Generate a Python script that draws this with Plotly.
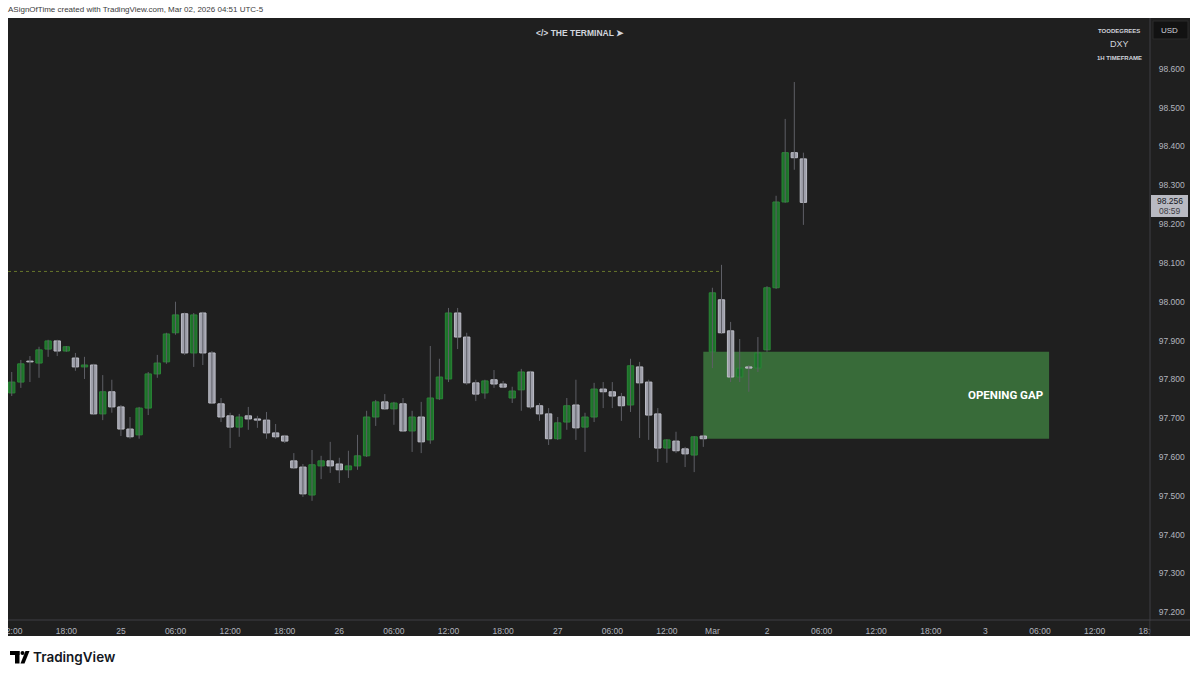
import plotly.graph_objects as go
import numpy as np

# ---------------- data (DXY, 1H) ----------------
opens = [97.765, 97.793, 97.847, 97.842, 97.878, 97.899, 97.873, 97.855, 97.832, 97.837,
         97.711, 97.768, 97.729, 97.672, 97.657, 97.726, 97.814, 97.845, 97.920, 97.969,
         97.868, 97.971, 97.868, 97.737, 97.706, 97.677, 97.706, 97.698, 97.695, 97.662,
         97.654, 97.590, 97.574, 97.502, 97.577, 97.590, 97.582, 97.567, 97.577, 97.603,
         97.703, 97.742, 97.724, 97.737, 97.667, 97.703, 97.644, 97.750, 97.801, 97.971,
         97.909, 97.791, 97.765, 97.799, 97.788, 97.752, 97.773, 97.819, 97.732, 97.711,
         97.647, 97.690, 97.734, 97.677, 97.703, 97.775, 97.768, 97.755, 97.734, 97.832,
         97.793, 97.711, 97.623, 97.641, 97.621, 97.605, 97.654, 97.871, 98.005, 97.925,
         97.806, 97.832, 97.829, 97.876, 98.036, 98.257, 98.384, 98.368]
highs = [97.819, 97.850, 97.860, 97.884, 97.902, 97.902, 97.886, 97.868, 97.858, 97.840,
         97.811, 97.799, 97.734, 97.703, 97.729, 97.819, 97.863, 97.920, 98.000, 97.972,
         97.971, 97.974, 97.873, 97.752, 97.714, 97.711, 97.729, 97.706, 97.716, 97.685,
         97.657, 97.610, 97.582, 97.618, 97.603, 97.639, 97.598, 97.616, 97.657, 97.719,
         97.747, 97.762, 97.742, 97.752, 97.719, 97.742, 97.886, 97.853, 97.984, 97.984,
         97.920, 97.799, 97.799, 97.824, 97.796, 97.781, 97.827, 97.822, 97.739, 97.726,
         97.703, 97.752, 97.799, 97.714, 97.791, 97.793, 97.793, 97.765, 97.853, 97.845,
         97.799, 97.726, 97.646, 97.665, 97.626, 97.654, 97.657, 98.036, 98.095, 97.948,
         97.904, 97.837, 97.909, 98.040, 98.273, 98.471, 98.566, 98.384]
lows = [97.757, 97.778, 97.793, 97.804, 97.858, 97.860, 97.871, 97.822, 97.801, 97.708,
        97.695, 97.714, 97.654, 97.647, 97.647, 97.708, 97.804, 97.840, 97.915, 97.863,
        97.832, 97.837, 97.737, 97.690, 97.623, 97.652, 97.670, 97.675, 97.647, 97.647,
        97.636, 97.569, 97.497, 97.487, 97.543, 97.559, 97.533, 97.546, 97.567, 97.600,
        97.680, 97.721, 97.683, 97.665, 97.613, 97.610, 97.634, 97.747, 97.793, 97.878,
        97.786, 97.744, 97.750, 97.778, 97.778, 97.739, 97.719, 97.724, 97.693, 97.631,
        97.644, 97.670, 97.644, 97.613, 97.690, 97.726, 97.726, 97.693, 97.716, 97.649,
        97.644, 97.587, 97.585, 97.610, 97.574, 97.561, 97.626, 97.829, 97.917, 97.793,
        97.793, 97.768, 97.819, 97.871, 98.033, 98.255, 98.340, 98.198]
closes = [97.793, 97.840, 97.845, 97.876, 97.899, 97.873, 97.884, 97.832, 97.837, 97.711,
          97.768, 97.729, 97.672, 97.652, 97.726, 97.814, 97.842, 97.917, 97.966, 97.868,
          97.966, 97.868, 97.739, 97.703, 97.677, 97.703, 97.698, 97.695, 97.662, 97.652,
          97.641, 97.572, 97.505, 97.580, 97.590, 97.577, 97.567, 97.577, 97.603, 97.703,
          97.742, 97.724, 97.739, 97.667, 97.703, 97.639, 97.752, 97.806, 97.971, 97.909,
          97.791, 97.762, 97.796, 97.788, 97.780, 97.770, 97.819, 97.729, 97.711, 97.647,
          97.688, 97.732, 97.675, 97.703, 97.775, 97.768, 97.757, 97.732, 97.835, 97.791,
          97.708, 97.623, 97.644, 97.616, 97.608, 97.652, 97.647, 98.023, 97.920, 97.806,
          97.829, 97.829, 97.868, 98.036, 98.257, 98.384, 98.371, 98.256]

# bar index of each x-axis label (hourly bars, weekend compressed) and the label texts
tick_index = [0, 6, 12, 18, 24, 30, 36, 42, 48, 54, 60, 66, 72, 77, 83, 89, 95, 101, 107, 113, 119, 125]
tick_text = ["12:00", "18:00", "25", "06:00", "12:00", "18:00", "26", "06:00", "12:00", "18:00",
             "27", "06:00", "12:00", "Mar", "2", "06:00", "12:00", "18:00", "3", "06:00", "12:00", "18:00"]
price_ticks = [97.2, 97.3, 97.4, 97.5, 97.6, 97.7, 97.8, 97.9, 98.0, 98.1, 98.2, 98.3, 98.4, 98.5, 98.6]

friday_last_bar = 76          # last bar before the weekend
gap_end_bar = 114             # right end of the opening-gap box
prior_high_level = 98.078     # dotted level line
prior_high_end_bar = 78
countdown = "08:59"

# ---------------- styling ----------------
W, H = 1200, 677
L, R, T, B = 8, 1150, 18, 620          # plot area in pixels
BG = "#1f1f1f"
GREEN = "#1d732a"
GREEN_EDGE = "#2a8536"
GREY = "#9fa0ab"
GREY_EDGE = "#bcbdc6"
WICK = "#5e5f66"
AX_TXT = "#b2b5be"
SEP = "#3e3f44"

def px2x(px):
    return (px - L) / (R - L)

def py2y(py):
    return (B - py) / (B - T)

n = len(opens)
idx = np.arange(n)
o = np.array(opens); c = np.array(closes); h = np.array(highs); lo = np.array(lows)
up = c >= o
body_base = np.minimum(o, c)
body_h = np.maximum(np.abs(c - o), 0.0015)

fig = go.Figure()

# wicks
wx, wy = [], []
for i in range(n):
    wx += [i, i, None]
    wy += [lo[i], h[i], None]
fig.add_trace(go.Scatter(x=wx, y=wy, mode="lines", line=dict(color=WICK, width=1),
                         hoverinfo="skip", showlegend=False))
# bodies
fig.add_trace(go.Bar(x=idx, y=body_h, base=body_base, width=0.7,
                     marker=dict(color=[GREEN if u else GREY for u in up],
                                 line=dict(color=[GREEN_EDGE if u else GREY_EDGE for u in up], width=1)),
                     hoverinfo="skip", showlegend=False))

x_left = -0.41
x_right = 125.09
y_lo, y_hi = 97.180, 98.731

shapes = []
# dark panel
shapes.append(dict(type="rect", xref="paper", yref="paper", x0=px2x(8), x1=px2x(1190),
                   y0=py2y(636), y1=py2y(18), fillcolor=BG, line=dict(width=0), layer="below"))
# opening gap box
shapes.append(dict(type="rect", xref="x", yref="y", x0=friday_last_bar, x1=gap_end_bar,
                   y0=closes[friday_last_bar], y1=opens[friday_last_bar + 1],
                   fillcolor="#386b39", line=dict(width=0), layer="below"))
# dotted prior-high level
shapes.append(dict(type="line", xref="x", yref="y", x0=x_left, x1=prior_high_end_bar,
                   y0=prior_high_level, y1=prior_high_level,
                   line=dict(color="#66752c", width=1, dash="dot"), layer="below"))
# separators
shapes.append(dict(type="line", xref="paper", yref="paper", x0=1.0, x1=1.0,
                   y0=py2y(636), y1=py2y(18), line=dict(color=SEP, width=1), layer="above"))
shapes.append(dict(type="line", xref="paper", yref="paper", x0=0, x1=px2x(1190),
                   y0=0, y1=0, line=dict(color=SEP, width=1), layer="above"))
# masks for clipped edge labels
shapes.append(dict(type="rect", xref="paper", yref="paper", x0=px2x(-5), x1=px2x(8),
                   y0=py2y(640), y1=py2y(620.5), fillcolor="white", line=dict(width=0), layer="above"))
shapes.append(dict(type="rect", xref="paper", yref="paper", x0=px2x(1150.5), x1=px2x(1190),
                   y0=py2y(636), y1=py2y(621), fillcolor=BG, line=dict(width=0), layer="above"))
# USD box
shapes.append(dict(type="rect", xref="paper", yref="paper", x0=px2x(1153), x1=px2x(1188),
                   y0=py2y(39), y1=py2y(21), fillcolor="#121212", line=dict(color="#2b2b2b", width=1),
                   layer="above"))
# current price label box
shapes.append(dict(type="rect", xref="paper", yref="paper", x0=px2x(1151), x1=px2x(1188),
                   y0=py2y(217), y1=py2y(195), fillcolor="#b9bac2", line=dict(width=0), layer="above"))
# TradingView logo (bottom-left)
shapes.append(dict(type="rect", xref="paper", yref="paper", x0=px2x(10), x1=px2x(19.5),
                   y0=py2y(655), y1=py2y(651), fillcolor="black", line=dict(width=0), layer="above"))
shapes.append(dict(type="rect", xref="paper", yref="paper", x0=px2x(15), x1=px2x(19.5),
                   y0=py2y(663.5), y1=py2y(651), fillcolor="black", line=dict(width=0), layer="above"))
shapes.append(dict(type="circle", xref="paper", yref="paper", x0=px2x(20.5), x1=px2x(24.5),
                   y0=py2y(655), y1=py2y(651), fillcolor="black", line=dict(width=0), layer="above"))
path = "M {} {} L {} {} L {} {} L {} {} Z".format(px2x(25.5), py2y(651), px2x(29.5), py2y(651),
                                                  px2x(24.5), py2y(663.5), px2x(20.5), py2y(663.5))
shapes.append(dict(type="path", xref="paper", yref="paper", path=path, fillcolor="black",
                   line=dict(width=0), layer="above"))

ann = []
def text(px, py, s, size, color, xanchor="center", family="Liberation Sans", weight="normal"):
    ann.append(dict(x=px2x(px), y=py2y(py), xref="paper", yref="paper", text=s, showarrow=False,
                    xanchor=xanchor, yanchor="middle",
                    font=dict(size=size, color=color, family=family, weight=weight)))

text(6, 9, "ASignOfTime created with TradingView.com, Mar 02, 2026 04:51 UTC-5", 8, "#3b3b3b", "left")
text(580, 33, "&lt;/&gt; THE TERMINAL ➤", 8.5, "#d1d4dc", "center", "Liberation Sans", "bold")
text(1119, 31, "TOODEGREES", 6, "#d1d4dc", "center", "Liberation Sans", "bold")
text(1119, 44, "DXY", 9, "#d1d4dc")
text(1119, 58, "1H TIMEFRAME", 6, "#d1d4dc", "center", "Liberation Sans", "bold")
text(1159, 30, "USD", 8, "#d1d4dc", "left")
text(1045, 395, "OPENING GAP", 11.5, "#ffffff", "right", "Roboto", "bold")
text(1169.5, 201.5, "{:.3f}".format(closes[-1]), 8.5, "#131722")
text(1169.5, 211.5, countdown, 8.5, "#3c3d44")
text(31, 657, "TradingView", 13.5, "#131722", "left", "Inter", 600)

fig.update_layout(
    width=W, height=H,
    margin=dict(l=L, r=W - R, t=T, b=H - B, autoexpand=False),
    paper_bgcolor="white", plot_bgcolor=BG,
    shapes=shapes, annotations=ann,
    showlegend=False, hovermode=False, bargap=0,
    xaxis=dict(range=[x_left, x_right], tickmode="array", tickvals=tick_index, ticktext=tick_text,
               showgrid=False, zeroline=False, showline=False, ticks="outside", ticklen=3,
               automargin=False,
               tickcolor="rgba(0,0,0,0)", tickfont=dict(size=8.5, color=AX_TXT, family="Liberation Sans"),
               fixedrange=True),
    yaxis=dict(range=[y_lo, y_hi], side="right", tickmode="array", tickvals=price_ticks,
               tickformat=".3f", showgrid=False, zeroline=False, showline=False, ticks="outside",
               ticklen=6, tickcolor="rgba(0,0,0,0)", automargin=False,
               tickfont=dict(size=8.5, color=AX_TXT, family="Liberation Sans"), fixedrange=True),
)

fig.write_html("out.html", config={"displayModeBar": False, "staticPlot": True},
               post_script="document.body.style.margin='0';document.body.style.overflow='hidden';")
